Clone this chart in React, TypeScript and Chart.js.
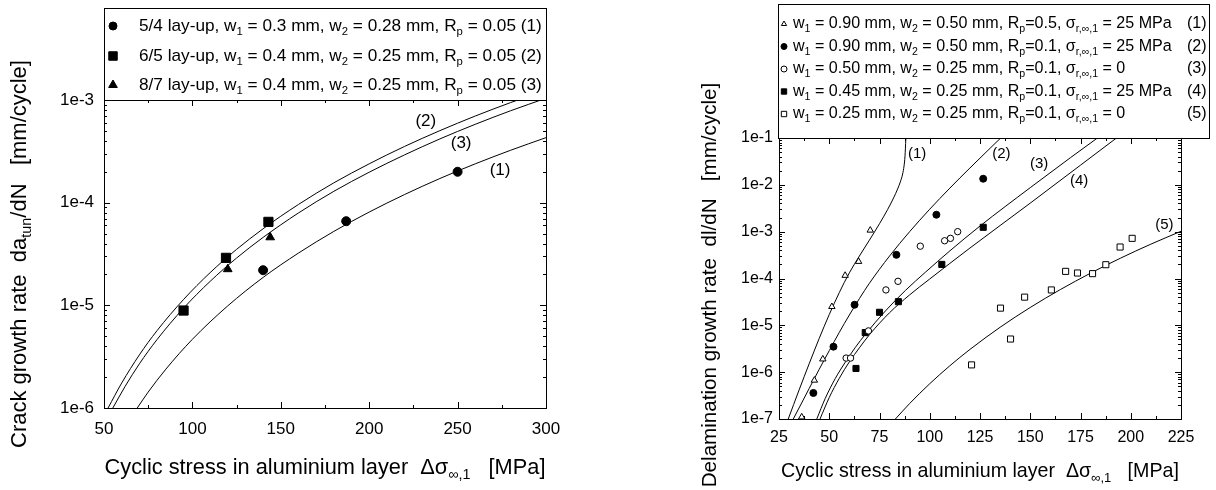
import React, { useEffect, useRef } from "react";
import { Chart, registerables } from "chart.js";
Chart.register(...registerables);

// ---------------- LEFT PANEL DATA ----------------
const L_X_TICKS = [50, 100, 150, 200, 250, 300];
const L_X_MINOR = [75, 125, 175, 225, 275];
const L_Y_TICKS = [1e-6, 1e-5, 1e-4, 1e-3];
const L_Y_LABELS = ["1e-6", "1e-5", "1e-4", "1e-3"];

// (1) 5/4 lay-up – filled circles
const L1_X = [140, 187, 250];
const L1_Y = [2.2e-5, 6.6e-5, 2.0e-4];
// (2) 6/5 lay-up – filled squares
const L2_X = [95, 119, 143];
const L2_Y = [8.9e-6, 2.9e-5, 6.5e-5];
// (3) 8/7 lay-up – filled triangles
const L3_X = [120, 144];
const L3_Y = [2.25e-5, 4.6e-5];

// model curves
const LC1_X = [68.8, 75, 85, 100, 120, 140, 160, 180, 200, 220, 240, 260, 280, 300];
const LC1_Y = [1.0e-6, 1.43e-6, 2.39e-6, 4.67e-6, 9.88e-6, 1.87e-5, 3.23e-5, 5.25e-5, 8.1e-5, 1.2e-4, 1.72e-4, 2.39e-4, 3.24e-4, 4.3e-4];
const LC2_X = [52.3, 60, 70, 80, 95, 110, 125, 140, 160, 180, 200, 220, 240, 260, 280, 300];
const LC2_Y = [1.0e-6, 1.75e-6, 3.29e-6, 5.67e-6, 1.14e-5, 2.08e-5, 3.51e-5, 5.57e-5, 9.61e-5, 1.56e-4, 2.39e-4, 3.53e-4, 5.03e-4, 6.98e-4, 9.44e-4, 1.25e-3];
const LC3_X = [55, 62, 70, 80, 95, 110, 125, 140, 160, 180, 200, 220, 240, 260, 280, 300];
const LC3_Y = [1.0e-6, 1.63e-6, 2.69e-6, 4.64e-6, 9.38e-6, 1.71e-5, 2.89e-5, 4.59e-5, 7.94e-5, 1.29e-4, 1.98e-4, 2.92e-4, 4.18e-4, 5.8e-4, 7.86e-4, 1.04e-3];

const L_CURVE_LABELS = ["(2)", "(3)", "(1)"];
const L_CURVE_LABEL_X = [232, 252, 274];
const L_CURVE_LABEL_Y = [6.2e-4, 3.8e-4, 2.05e-4];

const L_LEGEND = [
  "5/4 lay-up, w_{1} = 0.3 mm, w_{2} = 0.28 mm, R_{p} = 0.05 (1)",
  "6/5 lay-up, w_{1} = 0.4 mm, w_{2} = 0.25 mm, R_{p} = 0.05 (2)",
  "8/7 lay-up, w_{1} = 0.4 mm, w_{2} = 0.25 mm, R_{p} = 0.05 (3)",
];
const L_X_TITLE = "Cyclic stress in aluminium layer  Δσ_{∞,1}   [MPa]";
const L_Y_TITLE = "Crack growth rate  da_{tun}/dN   [mm/cycle]";

// ---------------- RIGHT PANEL DATA ----------------
const R_X_TICKS = [25, 50, 75, 100, 125, 150, 175, 200, 225];
const R_X_MINOR = [37.5, 62.5, 87.5, 112.5, 137.5, 162.5, 187.5, 212.5];
const R_Y_TICKS = [1e-7, 1e-6, 1e-5, 1e-4, 1e-3, 1e-2, 1e-1];
const R_Y_LABELS = ["1e-7", "1e-6", "1e-5", "1e-4", "1e-3", "1e-2", "1e-1"];

// (1) open triangles
const R1_X = [36.3, 42.6, 46.8, 51.3, 57.9, 64.6, 70.4];
const R1_Y = [1.1e-7, 6.7e-7, 1.9e-6, 2.5e-5, 1.16e-4, 2.3e-4, 1.07e-3];
// (2) filled circles
const R2_X = [42.1, 52.1, 62.6, 83.4, 103.3, 126.6];
const R2_Y = [3.6e-7, 3.5e-6, 2.75e-5, 3.2e-4, 2.3e-3, 1.35e-2];
// (3) open circles
const R3_X = [58.4, 60.6, 69.5, 78.2, 84.2, 95.3, 107.4, 110.3, 113.9];
const R3_Y = [2.0e-6, 2.0e-6, 7.6e-6, 5.7e-5, 8.7e-5, 4.9e-4, 6.4e-4, 7.2e-4, 1.0e-3];
// (4) filled squares
const R4_X = [63.3, 67.9, 75, 84.4, 106, 126.6];
const R4_Y = [1.2e-6, 7.0e-6, 1.9e-5, 3.2e-5, 2.0e-4, 1.24e-3];
// (5) open squares
const R5_X = [120.8, 135.2, 140.2, 147.2, 160.5, 167.6, 173.5, 181, 187.6, 194.7, 200.7];
const R5_Y = [1.43e-6, 2.33e-5, 5.1e-6, 4.0e-5, 5.7e-5, 1.42e-4, 1.31e-4, 1.27e-4, 1.97e-4, 4.7e-4, 7.2e-4];

const RC1_X = [29.6, 35, 40, 45, 50, 55, 60, 65, 70, 75, 79, 82, 84, 85.5, 86.5, 87.2, 87.7, 88.1, 88.3];
const RC1_Y = [1e-7, 4.17e-7, 1.51e-6, 5.25e-6, 1.7e-5, 5.01e-5, 1.32e-4, 3.02e-4, 6.61e-4, 1.48e-3, 2.95e-3, 5.25e-3, 8.13e-3, 1.2e-2, 1.7e-2, 2.51e-2, 4.17e-2, 1e-1, 2e-1];
const RC2_X = [32.1, 36, 40, 45, 50, 55, 60, 65, 70, 80, 90, 100, 110, 120, 130, 136];
const RC2_Y = [1e-7, 2.09e-7, 4.47e-7, 1.15e-6, 2.88e-6, 7.08e-6, 1.66e-5, 3.72e-5, 7.94e-5, 3.02e-4, 1.0e-3, 3.02e-3, 8.51e-3, 2.29e-2, 6.03e-2, 1.07e-1];
const RC3_X = [43.8, 48, 53, 58, 63, 68, 78, 88, 98, 110, 125, 150, 170, 185];
const RC3_Y = [1e-7, 2.75e-7, 7.33e-7, 1.64e-6, 3.39e-6, 6.46e-6, 2.04e-5, 5.62e-5, 1.38e-4, 3.89e-4, 1.32e-3, 8.71e-3, 3.8e-2, 1.12e-1];
const RC4_X = [45.4, 50, 55, 60, 65, 70, 80, 90, 100, 120, 150, 175, 195];
const RC4_Y = [1e-7, 2.88e-7, 7.41e-7, 1.66e-6, 3.31e-6, 6.31e-6, 1.86e-5, 4.47e-5, 9.77e-5, 4.47e-4, 4.07e-3, 2.63e-2, 1.17e-1];
const RC5_X = [82.9, 90, 100, 110, 120, 135, 150, 165, 180, 195, 210, 225];
const RC5_Y = [1e-7, 2.14e-7, 5.67e-7, 1.37e-6, 3.06e-6, 9.09e-6, 2.41e-5, 5.81e-5, 1.3e-4, 2.73e-4, 5.41e-4, 1.02e-3];

const R_CURVE_LABELS = ["(1)", "(2)", "(3)", "(4)", "(5)"];
const R_CURVE_LABEL_X = [93.7, 135.6, 154.4, 174.3, 216.7];
const R_CURVE_LABEL_Y = [4.5e-2, 4.5e-2, 2.75e-2, 1.2e-2, 1.4e-3];

const R_LEGEND = [
  "w_{1} = 0.90 mm, w_{2} = 0.50 mm, R_{p}=0.5, σ_{r,∞,1} = 25 MPa",
  "w_{1} = 0.90 mm, w_{2} = 0.50 mm, R_{p}=0.1, σ_{r,∞,1} = 25 MPa",
  "w_{1} = 0.50 mm, w_{2} = 0.25 mm, R_{p}=0.1, σ_{r,∞,1} = 0",
  "w_{1} = 0.45 mm, w_{2} = 0.25 mm, R_{p}=0.1, σ_{r,∞,1} = 25 MPa",
  "w_{1} = 0.25 mm, w_{2} = 0.25 mm, R_{p}=0.1, σ_{r,∞,1} = 0",
];
const R_LEGEND_NUM = ["(1)", "(2)", "(3)", "(4)", "(5)"];
const R_X_TITLE = "Cyclic stress in aluminium layer  Δσ_{∞,1}   [MPa]";
const R_Y_TITLE = "Delamination growth rate  dl/dN   [mm/cycle]";

const MINOR_MULT = [2, 3, 4, 5, 6, 7, 8, 9];

// ---------------- helpers ----------------
const FAMILY = '"Liberation Sans", Arial, Helvetica, sans-serif';
type Seg = { t: string; sub?: boolean };
function parseRich(s: string): Seg[] {
  const out: Seg[] = [];
  const re = /_\{([^}]*)\}/g;
  let last = 0;
  let m: RegExpExecArray | null;
  while ((m = re.exec(s))) {
    if (m.index > last) out.push({ t: s.slice(last, m.index) });
    out.push({ t: m[1], sub: true });
    last = m.index + m[0].length;
  }
  if (last < s.length) out.push({ t: s.slice(last) });
  return out;
}
function segFont(size: number, sub?: boolean) {
  return `${sub ? size * 0.66 : size}px ${FAMILY}`;
}
function measureRich(ctx: CanvasRenderingContext2D, s: string, size: number) {
  let w = 0;
  for (const g of parseRich(s)) {
    ctx.font = segFont(size, g.sub);
    w += ctx.measureText(g.t).width;
  }
  return w;
}
function drawRich(ctx: CanvasRenderingContext2D, s: string, x: number, y: number, size: number, align: "left" | "center" | "right" = "left") {
  const w = measureRich(ctx, s, size);
  let cx = align === "center" ? x - w / 2 : align === "right" ? x - w : x;
  ctx.textAlign = "left";
  ctx.textBaseline = "middle";
  for (const g of parseRich(s)) {
    ctx.font = segFont(size, g.sub);
    ctx.fillText(g.t, cx, g.sub ? y + size * 0.33 : y);
    cx += ctx.measureText(g.t).width;
  }
}
function fitSize(ctx: CanvasRenderingContext2D, s: string, target: number) {
  const base = 20;
  return (base * target) / measureRich(ctx, s, base);
}
function drawMarker(ctx: CanvasRenderingContext2D, style: string, filled: boolean, x: number, y: number, r: number) {
  ctx.save();
  ctx.beginPath();
  if (style === "circle") {
    ctx.arc(x, y, r, 0, Math.PI * 2);
  } else if (style === "rect") {
    const s = r * Math.SQRT1_2;
    ctx.rect(x - s, y - s, 2 * s, 2 * s);
  } else {
    ctx.moveTo(x, y - r);
    ctx.lineTo(x + r * Math.sin((2 * Math.PI) / 3), y - r * Math.cos((2 * Math.PI) / 3));
    ctx.lineTo(x + r * Math.sin((4 * Math.PI) / 3), y - r * Math.cos((4 * Math.PI) / 3));
    ctx.closePath();
  }
  ctx.fillStyle = filled ? "#000" : "#fff";
  ctx.fill();
  ctx.lineWidth = 1;
  ctx.strokeStyle = "#000";
  ctx.stroke();
  ctx.restore();
}

type Series = { xs: number[]; ys: number[]; style: string; filled: boolean; r: number };
type Panel = {
  W: number;
  H: number;
  plot: { left: number; right: number; top: number; bottom: number };
  xMin: number;
  xMax: number;
  yMin: number;
  yMax: number;
  xTicks: number[];
  xMinor: number[];
  yTicks: number[];
  yLabels: string[];
  tickFont: number;
  tickPadX: number;
  tickPadY: number;
  series: Series[];
  curves: { xs: number[]; ys: number[] }[];
  curveLabels: string[];
  curveLabelX: number[];
  curveLabelY: number[];
  curveLabelFont: number;
  legend: string[];
  legendNum?: string[];
  legendBox: { left: number; right: number; top: number; bottom: number };
  legendRowY: number[];
  legendMarkerX: number;
  legendTextX: number;
  legendTextW: number;
  legendNumX?: number;
  legendMarkerR: number[];
  xTitle: string;
  xTitleY: number;
  xTitleW: number;
  yTitle: string;
  yTitleX: number;
  yTitleYc: number;
  yTitleW: number;
};

function makeConfig(p: Panel): any {
  const decor = {
    id: "decor",
    afterDraw(chart: any) {
      const ctx: CanvasRenderingContext2D = chart.ctx;
      const xs = chart.scales.x;
      const ys = chart.scales.y;
      const a = chart.chartArea;
      ctx.save();
      ctx.strokeStyle = "#000";
      ctx.lineWidth = 1;
      ctx.strokeRect(Math.round(a.left) + 0.5, Math.round(a.top) + 0.5, Math.round(a.right - a.left), Math.round(a.bottom - a.top));
      ctx.beginPath();
      const hx = (v: number, len: number) => {
        const px = Math.round(xs.getPixelForValue(v)) + 0.5;
        ctx.moveTo(px, a.bottom);
        ctx.lineTo(px, a.bottom - len);
        ctx.moveTo(px, a.top);
        ctx.lineTo(px, a.top + len);
      };
      const vy = (v: number, len: number) => {
        const py = Math.round(ys.getPixelForValue(v)) + 0.5;
        ctx.moveTo(a.left, py);
        ctx.lineTo(a.left + len, py);
        ctx.moveTo(a.right, py);
        ctx.lineTo(a.right - len, py);
      };
      p.xTicks.forEach((v) => hx(v, 6));
      p.xMinor.forEach((v) => hx(v, 3));
      p.yTicks.forEach((v) => vy(v, 6));
      p.yTicks.forEach((d) => {
        MINOR_MULT.forEach((m) => {
          const v = d * m;
          if (v < p.yMax) vy(v, 3);
        });
      });
      ctx.stroke();

      ctx.fillStyle = "#000";
      p.curveLabels.forEach((t, i) => {
        drawRich(ctx, t, xs.getPixelForValue(p.curveLabelX[i]), ys.getPixelForValue(p.curveLabelY[i]), p.curveLabelFont, "center");
      });

      const b = p.legendBox;
      ctx.fillStyle = "#fff";
      ctx.fillRect(b.left, b.top, b.right - b.left, b.bottom - b.top);
      ctx.strokeRect(b.left + 0.5, b.top + 0.5, b.right - b.left, b.bottom - b.top);
      const lsize = fitSize(ctx, p.legend[0], p.legendTextW);
      p.legend.forEach((t, i) => {
        const s = p.series[i];
        drawMarker(ctx, s.style, s.filled, p.legendMarkerX, p.legendRowY[i], p.legendMarkerR[i]);
        ctx.fillStyle = "#000";
        drawRich(ctx, t, p.legendTextX, p.legendRowY[i], lsize, "left");
        if (p.legendNum && p.legendNumX !== undefined) drawRich(ctx, p.legendNum[i], p.legendNumX, p.legendRowY[i], lsize, "left");
      });

      ctx.fillStyle = "#000";
      const xt = fitSize(ctx, p.xTitle, p.xTitleW);
      drawRich(ctx, p.xTitle, (a.left + a.right) / 2, p.xTitleY, xt, "center");
      const yt = fitSize(ctx, p.yTitle, p.yTitleW);
      ctx.save();
      ctx.translate(p.yTitleX, p.yTitleYc);
      ctx.rotate(-Math.PI / 2);
      drawRich(ctx, p.yTitle, 0, 0, yt, "center");
      ctx.restore();
      ctx.restore();
    },
  };

  const datasets: any[] = [];
  p.series.forEach((s) => {
    datasets.push({
      data: s.xs.map((x, i) => ({ x, y: s.ys[i] })),
      showLine: false,
      pointStyle: s.style,
      pointRadius: s.r,
      pointHoverRadius: s.r,
      pointBackgroundColor: s.filled ? "#000" : "#fff",
      pointBorderColor: "#000",
      pointBorderWidth: 1,
    });
  });
  p.curves.forEach((c) => {
    datasets.push({
      data: c.xs.map((x, i) => ({ x, y: c.ys[i] })),
      showLine: true,
      borderColor: "#000",
      borderWidth: 1,
      pointRadius: 0,
      cubicInterpolationMode: "monotone",
      clip: 0,
    });
  });

  return {
    type: "scatter",
    data: { datasets },
    plugins: [decor],
    options: {
      responsive: false,
      animation: false,
      devicePixelRatio: 1,
      layout: { padding: { left: 0, top: p.plot.top, right: p.W - p.plot.right, bottom: 0 } },
      plugins: { legend: { display: false }, tooltip: { enabled: false }, title: { display: false } },
      events: [],
      scales: {
        x: {
          type: "linear",
          min: p.xMin,
          max: p.xMax,
          afterBuildTicks: (s: any) => {
            s.ticks = p.xTicks.map((v) => ({ value: v }));
          },
          afterFit: (s: any) => {
            s.height = p.H - p.plot.bottom;
          },
          ticks: {
            autoSkip: false,
            maxRotation: 0,
            padding: p.tickPadX,
            color: "#000",
            font: { family: FAMILY, size: p.tickFont },
            callback: (v: any) => String(v),
          },
          grid: { display: false, drawTicks: false },
          border: { display: false },
        },
        y: {
          type: "logarithmic",
          min: p.yMin,
          max: p.yMax,
          afterBuildTicks: (s: any) => {
            s.ticks = p.yTicks.map((v) => ({ value: v }));
          },
          afterFit: (s: any) => {
            s.width = p.plot.left;
          },
          ticks: {
            autoSkip: false,
            padding: p.tickPadY,
            color: "#000",
            font: { family: FAMILY, size: p.tickFont },
            callback: (_v: any, i: number) => p.yLabels[i],
          },
          grid: { display: false, drawTicks: false },
          border: { display: false },
        },
      },
    },
  };
}

const LEFT: Panel = {
  W: 608,
  H: 490,
  plot: { left: 104, right: 546, top: 100, bottom: 408 },
  xMin: 50,
  xMax: 300,
  yMin: 1e-6,
  yMax: 1e-3,
  xTicks: L_X_TICKS,
  xMinor: L_X_MINOR,
  yTicks: L_Y_TICKS,
  yLabels: L_Y_LABELS,
  tickFont: 17,
  tickPadX: 11,
  tickPadY: 10,
  series: [
    { xs: L1_X, ys: L1_Y, style: "circle", filled: true, r: 4.5 },
    { xs: L2_X, ys: L2_Y, style: "rect", filled: true, r: 6.5 },
    { xs: L3_X, ys: L3_Y, style: "triangle", filled: true, r: 5 },
  ],
  curves: [
    { xs: LC1_X, ys: LC1_Y },
    { xs: LC2_X, ys: LC2_Y },
    { xs: LC3_X, ys: LC3_Y },
  ],
  curveLabels: L_CURVE_LABELS,
  curveLabelX: L_CURVE_LABEL_X,
  curveLabelY: L_CURVE_LABEL_Y,
  curveLabelFont: 17,
  legend: L_LEGEND,
  legendBox: { left: 104, right: 546, top: 8, bottom: 100 },
  legendRowY: [26, 56, 85],
  legendMarkerX: 113,
  legendTextX: 139,
  legendTextW: 403,
  legendMarkerR: [4, 6, 5],
  xTitle: L_X_TITLE,
  xTitleY: 468,
  xTitleW: 441,
  yTitle: L_Y_TITLE,
  yTitleX: 20,
  yTitleYc: 254,
  yTitleW: 388,
};

const RIGHT: Panel = {
  W: 608,
  H: 490,
  plot: { left: 171, right: 573, top: 138, bottom: 419 },
  xMin: 25,
  xMax: 225,
  yMin: 1e-7,
  yMax: 1e-1,
  xTicks: R_X_TICKS,
  xMinor: R_X_MINOR,
  yTicks: R_Y_TICKS,
  yLabels: R_Y_LABELS,
  tickFont: 16,
  tickPadX: 9,
  tickPadY: 6,
  series: [
    { xs: R1_X, ys: R1_Y, style: "triangle", filled: false, r: 3.7 },
    { xs: R2_X, ys: R2_Y, style: "circle", filled: true, r: 3.5 },
    { xs: R3_X, ys: R3_Y, style: "circle", filled: false, r: 3.2 },
    { xs: R4_X, ys: R4_Y, style: "rect", filled: true, r: 4.3 },
    { xs: R5_X, ys: R5_Y, style: "rect", filled: false, r: 4.3 },
  ],
  curves: [
    { xs: RC1_X, ys: RC1_Y },
    { xs: RC2_X, ys: RC2_Y },
    { xs: RC3_X, ys: RC3_Y },
    { xs: RC4_X, ys: RC4_Y },
    { xs: RC5_X, ys: RC5_Y },
  ],
  curveLabels: R_CURVE_LABELS,
  curveLabelX: R_CURVE_LABEL_X,
  curveLabelY: R_CURVE_LABEL_Y,
  curveLabelFont: 15,
  legend: R_LEGEND,
  legendNum: R_LEGEND_NUM,
  legendBox: { left: 170, right: 601, top: 4, bottom: 138 },
  legendRowY: [24, 46.5, 69, 91.5, 114],
  legendMarkerX: 176,
  legendTextX: 185,
  legendTextW: 379,
  legendNumX: 579,
  legendMarkerR: [3, 3, 3, 3.8, 3.8],
  xTitle: R_X_TITLE,
  xTitleY: 472,
  xTitleW: 398,
  yTitle: R_Y_TITLE,
  yTitleX: 102,
  yTitleYc: 285,
  yTitleW: 405,
};

function ChartPanel({ panel, left }: { panel: Panel; left: number }) {
  const ref = useRef<HTMLCanvasElement | null>(null);
  useEffect(() => {
    if (!ref.current) return;
    const chart = new Chart(ref.current, makeConfig(panel));
    return () => chart.destroy();
  }, [panel]);
  return (
    <div style={{ position: "absolute", left, top: 0, width: panel.W, height: panel.H }}>
      <canvas ref={ref} width={panel.W} height={panel.H} style={{ display: "block", width: panel.W, height: panel.H }} />
    </div>
  );
}

export default function App() {
  return (
    <div style={{ position: "absolute", left: 0, top: 0, width: 1216, height: 490, background: "#fff", overflow: "hidden" }}>
      <ChartPanel panel={LEFT} left={0} />
      <ChartPanel panel={RIGHT} left={608} />
    </div>
  );
}
